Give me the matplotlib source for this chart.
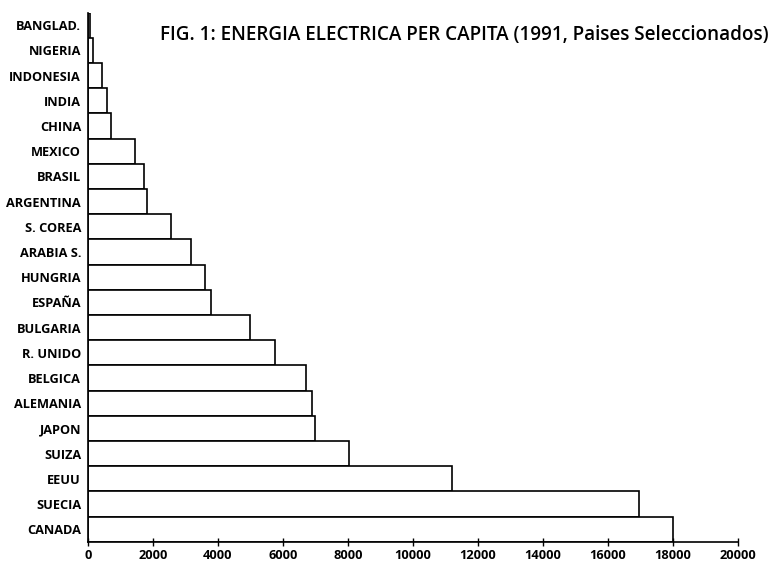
import numpy as np
import matplotlib.pyplot as plt

# kWh per capita, 1991
paises = ["BANGLAD.", "NIGERIA", "INDONESIA", "INDIA", "CHINA", "MEXICO",
          "BRASIL", "ARGENTINA", "S. COREA", "ARABIA S.", "HUNGRIA", "ESPAÑA",
          "BULGARIA", "R. UNIDO", "BELGICA", "ALEMANIA", "JAPON", "SUIZA",
          "EEUU", "SUECIA", "CANADA"]
valores = [70, 140, 440, 570, 700, 1440,
           1720, 1820, 2550, 3160, 3600, 3780,
           5000, 5750, 6720, 6900, 7000, 8040,
           11200, 16950, 18000]
xticks = [0, 2000, 4000, 6000, 8000, 10000, 12000, 14000, 16000, 18000, 20000]

titulo = "FIG. 1: ENERGIA ELECTRICA PER CAPITA (1991, Paises Seleccionados)"

plt.rcParams['font.family'] = ['Open Sans', 'DejaVu Sans']

fig = plt.figure(figsize=(7.76, 5.61), dpi=100)
ax = fig.add_axes([0.1134, 0.0342, 0.8376, 0.9433])

pos = np.arange(len(paises))
ax.barh(pos, valores, height=1.0, color='white', edgecolor='black', linewidth=1.2)

ax.set_ylim(len(paises) - 0.5, -0.5)
ax.set_xlim(0, 20000)
ax.set_yticks(pos)
ax.set_yticklabels(paises, fontweight='bold', fontsize=9.2)
ax.set_xticks(xticks)
ax.set_xticklabels([str(t) for t in xticks], fontweight='bold', fontsize=9.2)

ax.tick_params(axis='y', length=0, pad=5)
ax.tick_params(axis='x', direction='inout', length=6, width=1, pad=2)

for s in ['top', 'right']:
    ax.spines[s].set_visible(False)
for s in ['left', 'bottom']:
    ax.spines[s].set_linewidth(1.2)

fig.text(0.99, 0.938, titulo, ha='right', va='center', fontsize=13.6, fontweight='semibold')

fig.savefig("out.png", dpi=100)
plt.close()
